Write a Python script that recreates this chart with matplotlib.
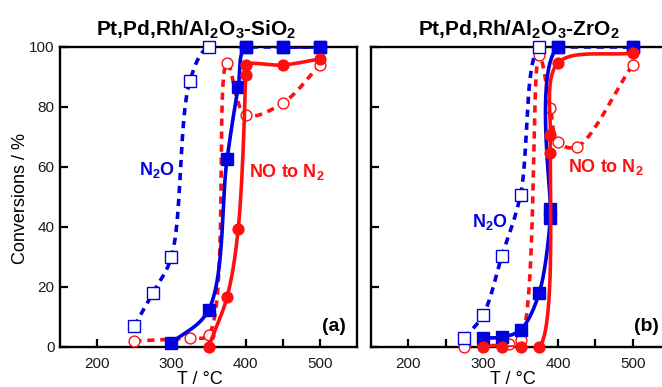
import numpy as np
import matplotlib
matplotlib.use('Agg')
import matplotlib.pyplot as plt

plt.rcParams['font.family'] = ['Liberation Sans', 'DejaVu Sans']
plt.rcParams['mathtext.fontset'] = 'custom'
plt.rcParams['mathtext.rm'] = 'Liberation Sans'
plt.rcParams['mathtext.bf'] = 'Liberation Sans:bold'

# ---- data (T in degC, conversion in %) ----
# panel (a) Pt,Pd,Rh/Al2O3-SiO2
a_n2o_open_T = [250, 275, 300, 325, 350, 400, 450, 500]
a_n2o_open = [7, 18, 30, 88.7, 100, 100, 100, 100]
a_n2o_fill_T = [300, 350, 375, 390, 400, 450, 500]
a_n2o_fill = [1.3, 12.3, 62.7, 86.7, 100, 100, 100]
a_no_open_T = [250, 325, 350, 375, 400, 450, 500]
a_no_open = [2, 3, 4, 94.7, 77.3, 81.3, 94]
a_no_fill_T = [350, 375, 390, 400, 400, 450, 500]
a_no_fill = [0, 16.7, 39.3, 90.7, 94, 94, 96]

# panel (b) Pt,Pd,Rh/Al2O3-ZrO2
b_n2o_open_T = [275, 300, 325, 350, 375, 400, 500]
b_n2o_open = [3, 10.7, 30.3, 50.7, 100, 100, 100]
b_n2o_fill_T = [300, 325, 350, 375, 390, 390, 400, 500]
b_n2o_fill = [3, 3.3, 5.7, 18, 43, 46, 100, 100]
b_no_open_T = [275, 335, 350, 375, 390, 400, 425, 500]
b_no_open = [0, 1, 2.3, 97.3, 79.7, 68.3, 66.7, 94]
b_no_fill_T = [300, 325, 350, 375, 390, 390, 400, 500]
b_no_fill = [0, 0, 0, 0, 64.7, 70.7, 94.7, 98]

titles = [r'Pt,Pd,Rh/Al$_\mathbf{2}$O$_\mathbf{3}$-SiO$_\mathbf{2}$',
          r'Pt,Pd,Rh/Al$_\mathbf{2}$O$_\mathbf{3}$-ZrO$_\mathbf{2}$']
panel_tags = ['(a)', '(b)']

BLUE = '#0000e0'
RED = '#ff1010'


def smooth(xs, ys, n=40):
    # centripetal Catmull-Rom through the points (in roughly pixel-scaled space)
    sx, sy = 0.745, 3.0
    P = np.column_stack([np.asarray(xs, float) * sx, np.asarray(ys, float) * sy])
    P = np.vstack([2 * P[0] - P[1], P, 2 * P[-1] - P[-2]])
    out = []
    for i in range(1, len(P) - 2):
        p0, p1, p2, p3 = P[i - 1], P[i], P[i + 1], P[i + 2]
        t0 = 0.0
        t1 = t0 + max(np.linalg.norm(p1 - p0), 1e-6) ** 0.5
        t2 = t1 + max(np.linalg.norm(p2 - p1), 1e-6) ** 0.5
        t3 = t2 + max(np.linalg.norm(p3 - p2), 1e-6) ** 0.5
        t = np.linspace(t1, t2, n)[:, None]
        A1 = (t1 - t) / (t1 - t0) * p0 + (t - t0) / (t1 - t0) * p1
        A2 = (t2 - t) / (t2 - t1) * p1 + (t - t1) / (t2 - t1) * p2
        A3 = (t3 - t) / (t3 - t2) * p2 + (t - t2) / (t3 - t2) * p3
        B1 = (t2 - t) / (t2 - t0) * A1 + (t - t0) / (t2 - t0) * A2
        B2 = (t3 - t) / (t3 - t1) * A2 + (t - t1) / (t3 - t1) * A3
        C = (t2 - t) / (t2 - t1) * B1 + (t - t1) / (t2 - t1) * B2
        out.append(C)
    C = np.vstack(out)
    return C[:, 0] / sx, C[:, 1] / sy


def series(ax, T, y, color, marker, filled, dashed, z):
    xs, ys = smooth(T, y)
    ls = (0, (2.0, 1.6)) if dashed else '-'
    ax.plot(xs, ys, color=color, lw=2.6, ls=ls, zorder=z)
    ms = 8.5 if marker == 's' else 7.8
    ax.plot(T, y, ls='none', marker=marker, ms=ms, color=color,
            mfc=color if filled else 'white', mec=color, mew=1.0,
            zorder=z + 0.5, clip_on=False)


fig = plt.figure(figsize=(6.62, 3.87), dpi=100)
W, H = 662.0, 387.0
ax_a = fig.add_axes([60 / W, (H - 347) / H, 297 / W, 300 / H])
ax_b = fig.add_axes([371 / W, (H - 347) / H, 299 / W, 300 / H])

panels = [
    (ax_a, [(a_n2o_open_T, a_n2o_open), (a_n2o_fill_T, a_n2o_fill),
            (a_no_open_T, a_no_open), (a_no_fill_T, a_no_fill)]),
    (ax_b, [(b_n2o_open_T, b_n2o_open), (b_n2o_fill_T, b_n2o_fill),
            (b_no_open_T, b_no_open), (b_no_fill_T, b_no_fill)]),
]

for k, (ax, sets) in enumerate(panels):
    (t1, y1), (t2, y2), (t3, y3), (t4, y4) = sets
    series(ax, t3, y3, RED, 'o', False, True, 3)
    series(ax, t1, y1, BLUE, 's', False, True, 4)
    series(ax, t2, y2, BLUE, 's', True, False, 5)
    series(ax, t4, y4, RED, 'o', True, False, 6)

    ax.set_xlim(150, 550)
    ax.set_ylim(0, 100)
    ax.set_xticks([200, 250, 300, 350, 400, 450, 500])
    ax.set_xticklabels(['200', '', '300', '', '400', '', '500'])
    ax.set_yticks([0, 20, 40, 60, 80, 100])
    ax.tick_params(direction='in', length=6, width=1.6, labelsize=11,
                   labelcolor='#1a1a1a', top=False, right=False)
    ax.tick_params(axis='x', pad=7)
    ax.tick_params(axis='y', pad=4)
    for s in ax.spines.values():
        s.set_linewidth(1.7)
        s.set_zorder(2)

    ax.text(334 if k == 0 else 348, 104, titles[k], ha='center', va='baseline',
            fontsize=15, fontweight='bold', clip_on=False)
    ax.text(519, 6.7, panel_tags[k], ha='center', va='center',
            fontsize=14, fontweight='bold', zorder=10)
    ax.text(338 if k == 0 else 340, -11, 'T / °C', ha='center', va='center',
            fontsize=13, clip_on=False)

ax_b.set_yticklabels([])
ax_b.spines['right'].set_visible(False)

ax_a.text(280.5, 59, r'N$_\mathbf{2}$O', color=BLUE, fontsize=13,
          fontweight='bold', ha='center', va='center')
ax_a.text(455.5, 58.3, r'NO to N$_\mathbf{2}$', color=RED, fontsize=13,
          fontweight='bold', ha='center', va='center')
ax_b.text(309, 41.7, r'N$_\mathbf{2}$O', color=BLUE, fontsize=13,
          fontweight='bold', ha='center', va='center')
ax_b.text(464.6, 60, r'NO to N$_\mathbf{2}$', color=RED, fontsize=13,
          fontweight='bold', ha='center', va='center')

fig.text(21 / W, (H - 198) / H, 'Conversions / %', rotation=90,
         ha='center', va='center', fontsize=13)

fig.savefig('out.png', dpi=100)
